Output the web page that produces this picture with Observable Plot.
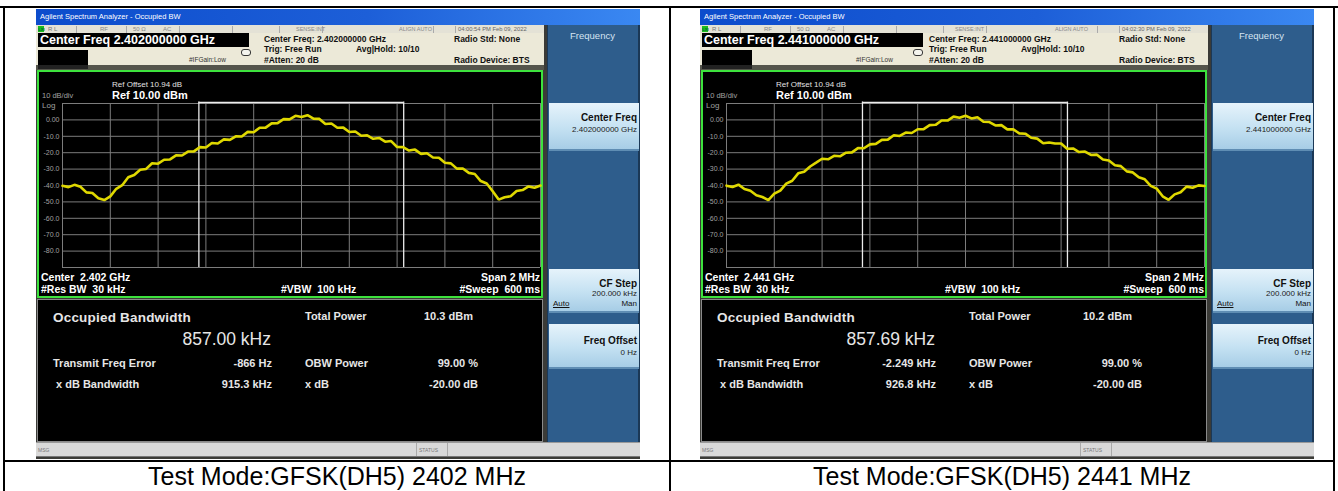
<!DOCTYPE html>
<html><head><meta charset="utf-8">
<script src="https://cdn.jsdelivr.net/npm/d3@7"></script>
<script src="https://cdn.jsdelivr.net/npm/@observablehq/plot@0.6"></script>
<style>
html,body{margin:0;padding:0;background:#fff;width:1338px;height:491px;overflow:hidden;font-family:"Liberation Sans",Arial,sans-serif;}
#root{position:relative;width:1338px;height:491px;overflow:hidden;}
</style>
</head><body><div id="root"></div>
<script>
// ---------------- data ----------------
const freqOffsetsMHz = [-1,-0.975,-0.95,-0.925,-0.9,-0.875,-0.85,-0.825,-0.8,-0.775,
 -0.75,-0.725,-0.7,-0.675,-0.65,-0.625,-0.6,-0.575,-0.55,-0.525,
 -0.5,-0.475,-0.45,-0.425,-0.4,-0.375,-0.35,-0.325,-0.3,-0.275,
 -0.25,-0.225,-0.2,-0.175,-0.15,-0.125,-0.1,-0.075,-0.05,-0.025,
 0,0.025,0.05,0.075,0.1,0.125,0.15,0.175,0.2,0.225,
 0.25,0.275,0.3,0.325,0.35,0.375,0.4,0.425,0.45,0.475,
 0.5,0.525,0.55,0.575,0.6,0.625,0.65,0.675,0.7,0.725,
 0.75,0.775,0.8,0.825,0.85,0.875,0.9,0.925,0.95,0.975,1];
const trace2402 = [-40.2,-41.0,-39.6,-40.8,-44.2,-44.6,-47.8,-48.9,-46.6,-42.0,
 -39.8,-35.0,-33.6,-30.4,-29.9,-26.4,-26.7,-24.3,-24.1,-21.6,
 -21.7,-19.3,-19.2,-16.6,-16.8,-14.1,-14.4,-11.9,-12.2,-10.0,
 -10.1,-7.3,-7.5,-4.8,-4.7,-2.1,-2.0,0.5,0.3,2.5,
 1.8,2.9,0.8,0.6,-2.5,-2.2,-4.8,-4.7,-7.4,-7.1,
 -9.7,-9.4,-11.5,-11.0,-13.3,-12.9,-16.5,-16.6,-18.7,-18.1,
 -20.7,-20.3,-22.9,-23.1,-26.1,-26.5,-29.7,-29.6,-32.3,-33.0,
 -37.3,-38.8,-43.5,-48.6,-47.2,-46.6,-43.4,-42.8,-40.6,-41.4,-40.0];
const trace2441 = [-40.1,-40.9,-39.5,-42.1,-43.2,-45.9,-47.0,-48.9,-45.0,-43.1,
 -38.9,-37.1,-32.6,-31.6,-28.4,-26.1,-23.7,-24.0,-21.9,-22.2,
 -20.0,-19.8,-17.2,-17.3,-14.9,-14.6,-12.2,-12.0,-9.4,-9.8,
 -7.7,-8.0,-5.7,-5.6,-3.2,-3.0,-0.4,-0.4,2.0,1.3,
 2.5,0.9,1.6,-1.1,-1.3,-3.4,-3.2,-5.8,-5.8,-8.2,
 -8.4,-10.9,-11.4,-14.2,-13.8,-14.4,-14.4,-17.6,-17.4,-19.6,
 -19.3,-21.4,-21.2,-24.1,-24.7,-27.6,-28.2,-31.4,-32.0,-35.0,
 -36.2,-40.2,-41.9,-46.6,-48.7,-45.4,-44.1,-40.7,-41.4,-39.9,-40.3];
// OBW edges, MHz relative to centre
const obw2402 = [-0.4294, 0.4276];
const obw2441 = [-0.4311, 0.4266];
const gridFreqs = [-1,-0.8,-0.6,-0.4,-0.2,0,0.2,0.4,0.6,0.8,1];
const gridLevels = [10,0,-10,-20,-30,-40,-50,-60,-70,-80,-90];
const yTickValues = [0,-10,-20,-30,-40,-50,-60,-70,-80];
const yTickLabels = ["0.00","-10.0","-20.0","-30.0","-40.0","-50.0","-60.0","-70.0","-80.0"];
const centerFreqs = ["2.402000000 GHz","2.441000000 GHz"];
const centerShort = ["2.402 GHz","2.441 GHz"];
const timestamps = ["04:00:54 PM Feb 09, 2022","04:02:30 PM Feb 09, 2022"];
const occBW = ["857.00 kHz","857.69 kHz"];
const totalPower = ["10.3 dBm","10.2 dBm"];
const freqError = ["-866 Hz","-2.249 kHz"];
const xdbBW = ["915.3 kHz","926.8 kHz"];
const obwPower = ["99.00 %","99.00 %"];
const xdB = ["-20.00 dB","-20.00 dB"];
const captions = ["Test Mode:GFSK(DH5) 2402 MHz","Test Mode:GFSK(DH5) 2441 MHz"];

// ---------------- helpers ----------------
const root = document.getElementById('root');
const FONT = '"Liberation Sans",Arial,sans-serif';
function el(parent, css) {
  const d = document.createElement('div');
  d.style.cssText = 'position:absolute;' + css;
  parent.appendChild(d); return d;
}
function txt(parent, s, x, y, size, o = {}) {
  const d = document.createElement('div');
  const lh = Math.round(size * 1.3);
  d.textContent = s;
  d.style.cssText = `position:absolute;white-space:nowrap;left:${x}px;top:${y - lh / 2}px;line-height:${lh}px;font-size:${size}px;font-weight:${o.bold ? 'bold' : 'normal'};color:${o.color || '#000'};font-family:${o.font || FONT};` +
    (o.anchor === 'end' ? 'transform:translateX(-100%);' : o.anchor === 'middle' ? 'transform:translateX(-50%);' : '') + (o.css || '');
  parent.appendChild(d); return d;
}

function spectrum(trace, obw) {
  const data = freqOffsetsMHz.map((f, i) => ({f, dbm: trace[i]}));
  return Plot.plot({
    width: 502, height: 224,
    marginLeft: 23, marginRight: 1, marginTop: 31, marginBottom: 29,
    x: {domain: [-1, 1], axis: null, label: null},
    y: {domain: [-90, 10], axis: null, label: null},
    style: {background: "#000", overflow: "visible", fontFamily: FONT},
    marks: [
      Plot.ruleX(gridFreqs, {stroke: "#7c7c7c", strokeWidth: 1}),
      Plot.ruleY(gridLevels, {stroke: "#7c7c7c", strokeWidth: 1}),
      Plot.ruleX(obw, {y1: -90, y2: 10.9, stroke: "#ececec", strokeWidth: 1.3}),
      Plot.ruleY([10.6], {x1: obw[0], x2: obw[1], stroke: "#ececec", strokeWidth: 1.3}),
      Plot.axisY({ticks: yTickValues, tickSize: 0, tickPadding: 3, label: null,
        tickFormat: d => yTickLabels[yTickValues.indexOf(d)], fill: "#a0a0a0", fontSize: 7}),
      Plot.line(data, {x: "f", y: "dbm", stroke: "#dfd800", strokeWidth: 2.6, strokeLinejoin: "miter"})
    ]
  });
}

function button(panel, pw, y, h, label, value, lblY, valY, extra) {
  const b = el(panel, `left:1px;top:${y}px;width:${pw - 3}px;height:${h}px;background:linear-gradient(#e6f3fb,#c4e1f2 55%,#a7cde6);border-bottom:2px solid #5f8db3;box-sizing:border-box;`);
  txt(b, label, pw - 5, lblY, 10, {bold: true, anchor: 'end', color: '#111'});
  txt(b, value, pw - 5, valY, 8, {anchor: 'end', color: '#222'});
  if (extra) extra(b);
  return b;
}

function buildScreen(k, cfg) {
  const W = cfg.width;
  const s = el(root, `left:${cfg.left}px;top:${cfg.top}px;width:${W}px;height:450px;background:#3b3b37;overflow:hidden;`);
  // title bar
  el(s, `left:0;top:0;width:${W}px;height:16px;background:linear-gradient(90deg,#0c4ccc 0%,#1d5fd8 55%,#3a88f2 100%);`);
  txt(s, 'Agilent Spectrum Analyzer - Occupied BW', 4, 8, 7.5, {color: '#fff'});
  // status row
  el(s, `left:0;top:16px;width:508px;height:8px;background:#e4e2d6;`);
  el(s, `left:2px;top:17px;width:6px;height:6px;background:#1dbd1d;`);
  txt(s, 'LXI', 2.3, 20, 4, {color: '#063', bold: true});
  const sepX = [40, 90, 143, 196, 243, 286, 397, 419];
  sepX.forEach(x => el(s, `left:${x}px;top:17px;width:1px;height:7px;background:#aaa;`));
  txt(s, 'R L', 12, 20, 6, {color: '#777'});
  txt(s, 'RF', 64, 20, 6, {color: '#888'});
  txt(s, '50 Ω', 97, 20, 6, {color: '#888'});
  txt(s, 'AC', 127, 20, 6, {color: '#888'});
  txt(s, 'SENSE:INT', cfg.senseX, 20, 5.5, {color: '#888'});
  txt(s, 'ALIGN AUTO', cfg.alignX, 20, 5.5, {color: '#888'});
  txt(s, timestamps[k], 422, 20, 5.8, {color: '#666'});
  // info area
  el(s, `left:0;top:24px;width:508px;height:32px;background:#ece9d8;`);
  el(s, `left:2px;top:24px;width:${cfg.bigBoxW}px;height:14px;background:#000;`);
  txt(s, 'Center Freq ' + centerFreqs[k], 4, 31, 12.5, {bold: true, color: '#fff'});
  el(s, `left:2px;top:41px;width:50px;height:15px;background:#000;`);
  txt(s, '#IFGain:Low', cfg.ifX, 51, 6.5, {color: '#333'});
  el(s, `left:${cfg.iconX}px;top:40px;width:8px;height:5px;border:1px solid #333;border-radius:3px;background:#f4f4ee;`);
  const ix = cfg.infoX;
  txt(s, 'Center Freq: ' + centerFreqs[k], ix, 30, 8.5, {bold: true, color: '#111'});
  txt(s, 'Trig: Free Run', ix, 40, 8.5, {bold: true, color: '#111'});
  txt(s, 'Avg|Hold: 10/10', ix + 92, 40, 8.5, {bold: true, color: '#111'});
  txt(s, '#Atten: 20 dB', ix, 51, 8.5, {bold: true, color: '#111'});
  txt(s, 'Radio Std: None', ix + 190, 30, 8.5, {bold: true, color: '#111'});
  txt(s, 'Radio Device: BTS', ix + 190, 51, 8.5, {bold: true, color: '#111'});
  // band between header and graph
  el(s, `left:0;top:56px;width:508px;height:5px;background:#55554c;`);
  el(s, `left:2px;top:56px;width:50px;height:4px;background:#222;`);
  // graph frame
  const fr = el(s, `left:1px;top:61px;width:506px;height:228px;border:2px solid #3de23d;box-sizing:border-box;background:#000;`);
  fr.appendChild(spectrum(k === 0 ? trace2402 : trace2441, k === 0 ? obw2402 : obw2441));
  txt(fr, 'Ref Offset 10.94 dB', 73, 13, 8, {color: '#e0e0e0'});
  txt(fr, 'Ref 10.00 dBm', 73, 23, 11, {color: '#fff', bold: true});
  txt(fr, '10 dB/div', 3, 24, 7.5, {color: '#a0a0a0'});
  txt(fr, 'Log', 3, 34, 8, {color: '#a0a0a0'});
  txt(fr, 'Center  ' + centerShort[k], 2, 205, 10.5, {color: '#fff', bold: true, css: 'white-space:pre;'});
  txt(fr, '#Res BW  30 kHz', 2, 217, 10.5, {color: '#fff', bold: true, css: 'white-space:pre;'});
  txt(fr, '#VBW  100 kHz', 242, 217, 10.5, {color: '#fff', bold: true, css: 'white-space:pre;'});
  txt(fr, 'Span 2 MHz', 501, 205, 10.5, {color: '#fff', bold: true, anchor: 'end'});
  txt(fr, '#Sweep  600 ms', 501, 217, 10.5, {color: '#fff', bold: true, anchor: 'end', css: 'white-space:pre;'});
  // measurement panel
  const mp = el(s, `left:1px;top:290px;width:506px;height:143px;background:#000;border:1px solid #8a8a8a;box-sizing:border-box;`);
  const mc = '#e6e6e6';
  txt(mp, 'Occupied Bandwidth', 15, 18, 13.5, {color: mc, bold: true, css: 'letter-spacing:0.2px;'});
  txt(mp, occBW[k], 233, 39, 17.5, {color: mc, anchor: 'end'});
  txt(mp, 'Total Power', 267, 16, 11, {color: mc, bold: true});
  txt(mp, totalPower[k], cfg.tpX, 16, 11, {color: mc, bold: true});
  txt(mp, 'Transmit Freq Error', 15, 63, 11, {color: mc, bold: true});
  txt(mp, freqError[k], 234, 63, 11, {color: mc, bold: true, anchor: 'end'});
  txt(mp, 'OBW Power', 267, 63, 11, {color: mc, bold: true});
  txt(mp, obwPower[k], 440, 63, 11, {color: mc, bold: true, anchor: 'end'});
  txt(mp, 'x dB Bandwidth', 18, 84, 11, {color: mc, bold: true});
  txt(mp, xdbBW[k], 234, 84, 11, {color: mc, bold: true, anchor: 'end'});
  txt(mp, 'x dB', 267, 84, 11, {color: mc, bold: true});
  txt(mp, xdB[k], 440, 84, 11, {color: mc, bold: true, anchor: 'end'});
  // msg bar
  el(s, `left:0;top:433px;width:${W}px;height:15px;background:#d9d9d9;border-top:1px solid #999;border-bottom:1px solid #777;box-sizing:border-box;`);
  txt(s, 'MSG', 2, 441, 5, {color: '#777'});
  el(s, `left:380px;top:434px;width:1px;height:13px;background:#aaa;`);
  el(s, `left:411px;top:434px;width:1px;height:13px;background:#aaa;`);
  txt(s, 'STATUS', 383, 441, 5, {color: '#777'});
  // right softkey panel
  const px = 511, pw = W - px;
  const panel = el(s, `left:${px}px;top:16px;width:${pw}px;height:417px;background:#2e5d8c;border-left:1px solid #1b3856;border-right:2px solid #1b3856;box-sizing:border-box;`);
  txt(panel, 'Frequency', pw / 2 - 2, 11, 9.5, {color: '#d5e3f1', anchor: 'middle'});
  button(panel, pw, 78, 48, 'Center Freq', centerFreqs[k], 14, 27);
  button(panel, pw, 244, 44, 'CF Step', '200.000 kHz', 14, 25, b => {
    txt(b, 'Auto', 4, 35, 8, {color: '#111', css: 'text-decoration:underline;'});
    txt(b, 'Man', pw - 5, 35, 8, {color: '#111', anchor: 'end'});
  });
  button(panel, pw, 299, 45, 'Freq Offset', '0 Hz', 16, 29);
}

const screenCfg = [
  {left: 36, top: 9, width: 604, senseX: 260, alignX: 363, bigBoxW: 211, ifX: 153, iconX: 205, infoX: 228, tpX: 386},
  {left: 700, top: 9, width: 614, senseX: 255, alignX: 355, bigBoxW: 221, ifX: 156, iconX: 213, infoX: 229, tpX: 381}
];
screenCfg.forEach((c, k) => buildScreen(k, c));

// table lines
el(root, 'left:0;top:6px;width:1338px;height:2px;background:#000;');
el(root, 'left:3px;top:6px;width:2px;height:485px;background:#000;');
el(root, 'left:669px;top:6px;width:2px;height:485px;background:#000;');
el(root, 'left:1333px;top:6px;width:2px;height:485px;background:#000;');
el(root, 'left:3px;top:460px;width:1332px;height:2px;background:#000;');
// captions
txt(root, captions[0], 337, 476, 25, {anchor: 'middle', color: '#000'});
txt(root, captions[1], 1002, 476, 25, {anchor: 'middle', color: '#000'});
</script>
</body></html>
